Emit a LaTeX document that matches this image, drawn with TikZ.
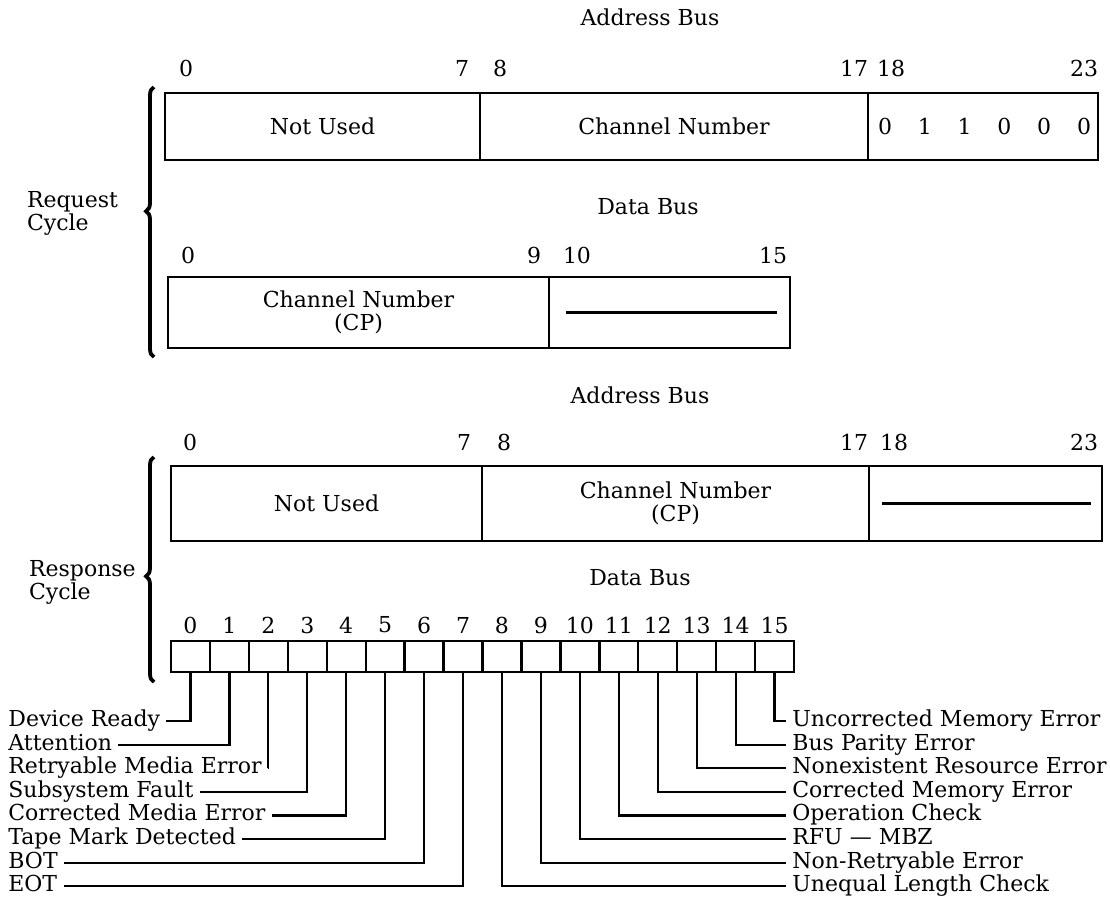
\documentclass[tikz,border=0pt]{standalone}
\usepackage{fontspec}
\setmainfont{DejaVu Serif}
\usepackage{tikz}
\usetikzlibrary{calc,decorations.pathreplacing}
\tikzstyle{champ} = [rectangle, draw=black, line width=1.3pt, inner sep=0pt, outer sep=0pt, anchor=north west, align=center]
\tikzstyle{case} = [rectangle, draw=black, line width=1.2pt, inner sep=0pt, outer sep=0pt, minimum width=19.47pt, minimum height=15.5pt, anchor=north west]
\tikzstyle{etiquette} = [inner xsep=3pt, inner ysep=0pt, text height=8pt, text depth=2.5pt]
\tikzstyle{numero} = [inner sep=0pt]
\tikzstyle{accolade} = [decorate, line width=1.9pt]

\begin{document}
\begin{tikzpicture}[x=0.5pt, y=-0.5pt, font=\fontsize{11}{11.5}\selectfont]

        \useasboundingbox (0,0) rectangle (1110,902);

        \node (T1) [] at (650,17) {Address Bus};
        \node (n1a) [numero] at (186,68) {0};
        \node (n1b) [numero] at (462,68) {7};
        \node (n1c) [numero] at (500,68) {8};
        \node (n1d) [numero] at (854,68) {17};
        \node (n1e) [numero] at (891,68) {18};
        \node (n1f) [numero] at (1084,68) {23};

        \node (A1) [champ, minimum width=157.5pt, minimum height=33.5pt] at (165,93) {Not Used};
        \node (A2) [champ, minimum width=194pt, minimum height=33.5pt] at (A1.north east) {Channel Number};
        \node (A3) [champ, minimum width=115pt, minimum height=33.5pt] at (A2.north east) {};
        \foreach \i/\b in {0/0,1/1,2/1,3/0,4/0,5/0}
            \node (b\i) [numero] at ({885+39.8*\i},126) {\b};

        \node (req) [anchor=west, align=left] at (20,213) {Request\\Cycle};
        \draw[accolade, decoration={brace, amplitude=4pt, aspect=0.54}] (154,357) -- (154,87);

        \node (T2) [] at (648,207) {Data Bus};
        \node (n2a) [numero] at (188,255) {0};
        \node (n2b) [numero] at (534,255) {9};
        \node (n2c) [numero] at (577,255) {10};
        \node (n2d) [numero] at (773,255) {15};

        \node (D1) [champ, minimum width=190.5pt, minimum height=35.5pt] at (168,277) {Channel Number\\(CP)};
        \node (D2) [champ, minimum width=120.5pt, minimum height=35.5pt] at (D1.north east) {};
        \draw[line width=1.2pt] ($(D2.west)+(17,0)$) -- ($(D2.east)+(-13,0)$);

        \node (T3) [] at (640,395) {Address Bus};
        \node (n3a) [numero] at (190,442) {0};
        \node (n3b) [numero] at (464,442) {7};
        \node (n3c) [numero] at (504,442) {8};
        \node (n3d) [numero] at (854,442) {17};
        \node (n3e) [numero] at (894,442) {18};
        \node (n3f) [numero] at (1084,442) {23};

        \node (B1) [champ, minimum width=155.5pt, minimum height=37.5pt] at (171,466) {Not Used};
        \node (B2) [champ, minimum width=193.5pt, minimum height=37.5pt] at (B1.north east) {Channel Number\\(CP)};
        \node (B3) [champ, minimum width=116.5pt, minimum height=37.5pt] at (B2.north east) {};
        \draw[line width=1.2pt] ($(B3.west)+(13,0)$) -- ($(B3.east)+(-11,0)$);

        \node (resp) [anchor=west, align=left] at (22,582) {Response\\Cycle};
        \draw[accolade, decoration={brace, amplitude=4pt, aspect=0.47}] (154,682) -- (154,457);

        \node (T4) [] at (640,578) {Data Bus};
        \foreach \i in {0,...,15} {
            \node (c\i) [case] at ({171+38.94*\i},641) {};
            \node (n\i) [numero] at ($(c\i.north)+(0,-16)$) {\i};
        }

        \foreach \i/\t in {0/Device Ready, 1/Attention, 2/Retryable Media Error, 3/Subsystem Fault, 4/Corrected Media Error, 5/Tape Mark Detected, 6/BOT, 7/EOT} {
            \node (g\i) [etiquette, anchor=west] at (2,{721+23.6*\i}) {\t};
            \draw[line width=1.1pt] (g\i.east) -| (c\i.south);
        }

        \foreach \i/\t in {15/Uncorrected Memory Error, 14/Bus Parity Error, 13/Nonexistent Resource Error, 12/Corrected Memory Error, 11/Operation Check, 10/RFU — MBZ, 9/Non-Retryable Error, 8/Unequal Length Check} {
            \node (d\i) [etiquette, anchor=west] at (786,{721+23.6*(15-\i)}) {\t};
            \draw[line width=1.1pt] (c\i.south) |- (d\i.west);
        }

    \end{tikzpicture}
\end{document}
